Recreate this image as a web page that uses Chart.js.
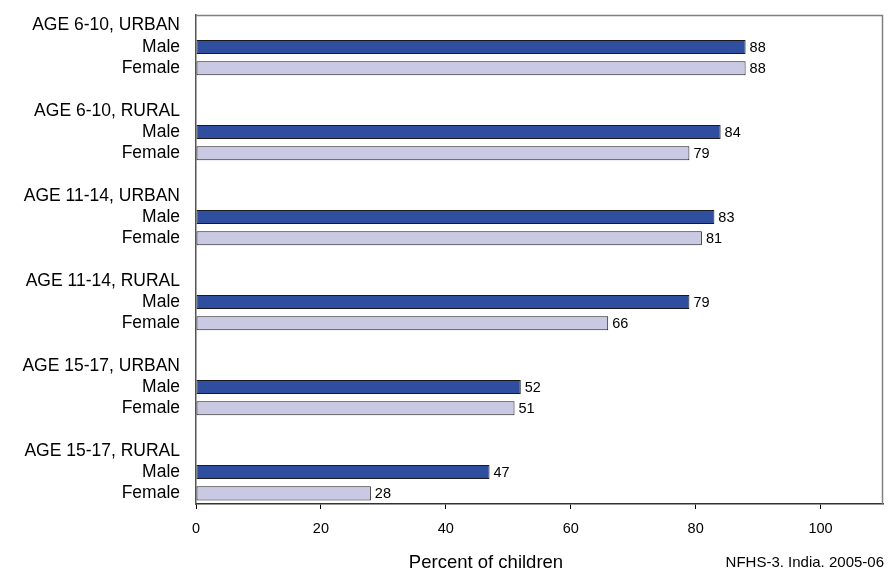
<!DOCTYPE html>
<html>
<head>
<meta charset="utf-8">
<script src="https://cdn.jsdelivr.net/npm/chart.js@4"></script>
<style>
  html, body { margin: 0; padding: 0; background: #fff; }
  #wrap { width: 888px; height: 569px; }
</style>
</head>
<body>
<div id="wrap"><canvas id="bars"></canvas></div>
<script>
// groups, one header row + Male + Female, blank spacer row between groups
var groups = ['AGE 6-10, URBAN', 'AGE 6-10, RURAL', 'AGE 11-14, URBAN',
              'AGE 11-14, RURAL', 'AGE 15-17, URBAN', 'AGE 15-17, RURAL'];
var maleValues = [88, 84, 83, 79, 52, 47];
var femaleValues = [88, 79, 81, 66, 51, 28];
var xTicks = [0, 20, 40, 60, 80, 100];

var labels = [], male = [], female = [];
groups.forEach(function (g, i) {
    if (i > 0) { labels.push(''); male.push(null); female.push(null); }
    labels.push(g); male.push(null); female.push(null);
    labels.push('Male'); male.push(maleValues[i]); female.push(null);
    labels.push('Female'); male.push(null); female.push(femaleValues[i]);
});

var FONT = 'Liberation Sans, Arial, sans-serif';

var extras = {
    id: 'extras',
    afterDatasetsDraw: function (chart) {
        var c = chart.ctx, a = chart.chartArea;
        c.save();
        // value labels
        c.font = '14.5px ' + FONT;
        c.fillStyle = '#000';
        c.textBaseline = 'middle';
        c.textAlign = 'left';
        chart.data.datasets.forEach(function (ds, di) {
            chart.getDatasetMeta(di).data.forEach(function (bar, j) {
                if (ds.data[j] == null) return;
                c.fillText(ds.data[j], bar.x + 4, bar.y + 1);
            });
        });
        // frame top / right
        c.strokeStyle = '#808080';
        c.lineWidth = 1.5;
        c.beginPath();
        c.moveTo(a.left, a.top + 0.5);
        c.lineTo(a.right - 0.5, a.top + 0.5);
        c.lineTo(a.right - 0.5, a.bottom);
        c.stroke();
        // titles
        c.font = '18.5px ' + FONT;
        c.textAlign = 'center';
        c.fillText('Percent of children', 486, 563);
        c.font = '15px ' + FONT;
        c.textAlign = 'right';
        c.fillText('NFHS-3. India. 2005-06', 884, 563);
        c.restore();
    }
};

new Chart(document.getElementById('bars'), {
    type: 'bar',
    data: {
        labels: labels,
        datasets: [{
            label: 'Male',
            data: male,
            backgroundColor: '#2F4EA0',
            borderColor: '#1a1a1a',
            borderWidth: 1,
            borderSkipped: false,
            grouped: false,
            categoryPercentage: 1,
            barPercentage: 0.66
        }, {
            label: 'Female',
            data: female,
            backgroundColor: '#C9C9E4',
            borderColor: '#1a1a1a',
            borderWidth: 1,
            borderSkipped: false,
            grouped: false,
            categoryPercentage: 1,
            barPercentage: 0.66
        }]
    },
    options: {
        indexAxis: 'y',
        responsive: true,
        maintainAspectRatio: false,
        animation: false,
        layout: { padding: { top: 15, right: 5, left: 0, bottom: 0 } },
        plugins: {
            legend: { display: false },
            tooltip: { enabled: false }
        },
        scales: {
            x: {
                min: 0,
                max: 110,
                afterBuildTicks: function (s) {
                    s.ticks = xTicks.map(function (v) { return { value: v }; });
                },
                afterFit: function (s) { s.height = 65; },
                grid: { drawOnChartArea: false, tickLength: 5, color: '#000' },
                border: { color: '#333', width: 1.5 },
                ticks: { padding: 11, color: '#000', font: { family: FONT, size: 14.5 } }
            },
            y: {
                afterFit: function (s) {
                    s.width = 196;
                    s.paddingTop = 0;
                    s.paddingBottom = 0;
                },
                grid: { display: false },
                border: { color: '#555', width: 1.5 },
                ticks: {
                    autoSkip: false,
                    padding: 8,
                    color: '#000',
                    font: { family: FONT, size: 17.5 }
                }
            }
        }
    },
    plugins: [extras]
});
</script>
</body>
</html>
